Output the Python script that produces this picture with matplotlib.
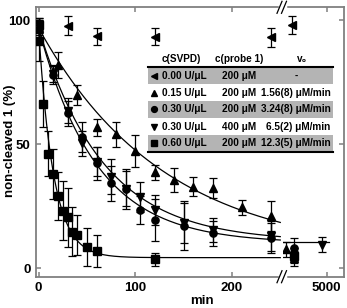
import numpy as np
import matplotlib.pyplot as plt
from matplotlib.patches import Rectangle
from matplotlib.lines import Line2D

plt.rcParams['font.family'] = ['Liberation Sans', 'DejaVu Sans']
plt.rcParams['font.weight'] = 'bold'

# ----------------------------
# Data
# ----------------------------

# 0.00 U/uL, 200 uM
t_000 = [0, 30, 60, 120, 240, 3830]
y_000 = [98.0, 97.8, 93.6, 93.5, 93.2, 98.2]
e_000 = [3.0, 3.8, 3.5, 3.5, 3.8, 3.5]

# 0.15 U/uL, 200 uM
t_015 = [0, 20, 40, 60, 80, 100, 120, 140, 160, 180, 210, 240, 3620, 3880]
y_015 = [97.0, 82.0, 70.0, 56.8, 54.0, 47.3, 38.6, 35.6, 32.9, 32.2, 24.5, 21.0, 7.6, 4.0]
e_015 = [3.0, 5.4, 4.0, 3.5, 5.0, 6.5, 3.0, 5.0, 4.0, 4.0, 3.0, 6.0, 3.0, 3.0]

# 0.30 U/uL, 200 uM
t_030 = [0, 15, 30, 45, 60, 75, 90, 105, 120, 150, 180, 240, 3880]
y_030 = [96.5, 78.0, 62.5, 53.0, 42.3, 34.2, 31.8, 23.4, 19.4, 17.1, 14.0, 12.0, 8.0]
e_030 = [3.5, 3.5, 5.0, 6.0, 6.7, 7.0, 8.0, 5.7, 8.4, 10.0, 5.0, 6.0, 4.0]

# 0.30 U/uL, 400 uM
t_030b = [0, 15, 30, 45, 60, 75, 90, 105, 120, 150, 180, 240, 4840]
y_030b = [98.0, 78.5, 63.5, 50.4, 43.0, 36.9, 32.0, 28.6, 23.4, 18.2, 15.4, 12.8, 9.5]
e_030b = [3.0, 3.5, 5.0, 5.0, 6.0, 7.0, 7.0, 6.0, 6.0, 8.0, 5.0, 6.0, 3.0]

# 0.60 U/uL, 200 uM
t_060 = [0, 5, 10, 15, 20, 25, 30, 35, 40, 50, 60, 120, 3880]
y_060 = [91.8, 66.2, 46.2, 37.9, 29.1, 23.2, 20.5, 14.7, 13.3, 8.5, 7.0, 3.5, 5.0]
e_060 = [8.0, 9.4, 9.0, 10.0, 9.8, 11.8, 12.0, 10.0, 8.0, 7.7, 6.4, 2.5, 3.0]

# single exponential fits: plateau, amplitude, rate (1/min)
fit_015 = [5.0, 92.0, 0.0077]
fit_030 = [10.0, 87.0, 0.01675]
fit_030b = [10.6, 86.4, 0.0149]
fit_060 = [4.2, 92.8, 0.065]

# legend table
col_svpd = ['0.00 U/\u03bcL', '0.15 U/\u03bcL', '0.30 U/\u03bcL', '0.30 U/\u03bcL', '0.60 U/\u03bcL']
col_probe = ['200 \u03bcM', '200 \u03bcM', '200 \u03bcM', '400 \u03bcM', '200 \u03bcM']
col_v0 = ['-', '1.56(8) \u03bcM/min', '3.24(8) \u03bcM/min', '6.5(2) \u03bcM/min', '12.3(5) \u03bcM/min']
markers = ['<', '^', 'o', 'v', 's']

series = [(t_000, y_000, e_000), (t_015, y_015, e_015), (t_030, y_030, e_030),
          (t_030b, y_030b, e_030b), (t_060, y_060, e_060)]
fits = [None, fit_015, fit_030, fit_030b, fit_060]

# ----------------------------
# Figure layout (pixels -> figure fraction)
# ----------------------------
W, H = 347, 308
def fx(px):
    return px / W
def fy(py):
    return 1 - py / H

fig = plt.figure(figsize=(W / 100, H / 100), dpi=100)
x_left, x_break, x_right = 36, 282.5, 343.5
y_top, y_bot = 7.3, 276.7

ax1 = fig.add_axes([fx(x_left), fy(y_bot), fx(x_break - x_left), (y_bot - y_top) / H])
ax2 = fig.add_axes([fx(x_break), fy(y_bot), fx(x_right - x_break), (y_bot - y_top) / H], sharey=ax1)

spine_col = '#808080'
for ax in (ax1, ax2):
    for s in ax.spines.values():
        s.set_color(spine_col)
        s.set_linewidth(1.3)
    ax.tick_params(direction='in', length=3.6, width=1.1, color=spine_col,
                   labelcolor='black', labelsize=9.5, pad=4)
ax1.spines['right'].set_visible(False)
ax2.spines['left'].set_visible(False)
ax1.tick_params(top=True, right=False)
ax2.tick_params(top=True, left=False, right=True, labelleft=False)

for ax in (ax1, ax2):
    for (t, y, e), m, fit in zip(series, markers, fits):
        ax.errorbar(t, y, yerr=e, fmt=m, color='black', ms=5.2 if m != '<' else 6,
                    elinewidth=0.9, capsize=2.8, capthick=0.9, zorder=3)

tt = np.linspace(0, 250, 300)
for fit in fits:
    if fit is None:
        continue
    c, a, k = fit
    ax1.plot(tt, c + a * np.exp(-k * tt), color='black', lw=0.9, zorder=2)
# the 400 uM fit runs on past the break
c, a, k = fit_030b
tl = np.linspace(3500, 5070, 50)
ax2.plot(tl, c + a * np.exp(-k * tl), color='black', lw=0.9, zorder=2)

ax1.set_xlim(-2.6, 252.3)
ax2.set_xlim(3500, 5570)
ax1.set_ylim(-3.5, 105.3)
ax1.set_xticks([0, 100, 200])
ax2.set_xticks([5000])
ax1.set_yticks([0, 50, 100])
for lab in ax1.get_xticklabels() + ax1.get_yticklabels() + ax2.get_xticklabels():
    lab.set_fontweight('bold')

fig.text(fx(10), fy(141), 'non-cleaved 1 (%)', rotation=90, ha='center', va='center',
         fontsize=9.5, fontweight='bold')
fig.text(fx(202), fy(301.5), 'min', ha='center', va='center', fontsize=9.5, fontweight='bold')

# axis break marks
for yb in (y_top, y_bot):
    fig.add_artist(Line2D([fx(279.5), fx(284.5)], [fy(yb), fy(yb)], color='white', lw=2.5,
                          transform=fig.transFigure))
    for dx in (0, 4.5):
        fig.add_artist(Line2D([fx(277 + dx), fx(282 + dx)], [fy(yb + 6), fy(yb - 6)],
                              color='black', lw=0.9, transform=fig.transFigure))

# ----------------------------
# Legend table
# ----------------------------
tx0, tx1 = 148, 332.7
row_y = [76, 92.7, 109.3, 126.7, 143.3]
row_h = 16.4
fs = 7.2
for i, yc in enumerate(row_y):
    if i % 2 == 0:
        fig.add_artist(Rectangle((fx(tx0), fy(yc + row_h / 2)), fx(tx1 - tx0), row_h / H,
                                 transform=fig.transFigure, facecolor='#b4b4b4',
                                 edgecolor='none', zorder=5))
    fig.add_artist(Line2D([fx(154)], [fy(yc)], marker=markers[i], color='black',
                          ms=4.2, ls='none', transform=fig.transFigure, zorder=6))
    fig.text(fx(161.5), fy(yc), col_svpd[i], ha='left', va='center', fontsize=fs,
             fontweight='bold', zorder=6)
    fig.text(fx(239), fy(yc), col_probe[i], ha='center', va='center', fontsize=fs,
             fontweight='bold', zorder=6)
    if col_v0[i] == '-':
        fig.text(fx(296), fy(yc), col_v0[i], ha='center', va='center', fontsize=fs,
                 fontweight='bold', zorder=6)
    else:
        fig.text(fx(330.5), fy(yc), col_v0[i], ha='right', va='center', fontsize=fs,
                 fontweight='bold', zorder=6)

fig.text(fx(181), fy(59), 'c(SVPD)', ha='center', va='center', fontsize=fs, fontweight='bold')
fig.text(fx(239), fy(59), 'c(probe 1)', ha='center', va='center', fontsize=fs, fontweight='bold')
fig.text(fx(302), fy(59), 'v\u2080', ha='center', va='center', fontsize=fs, fontweight='bold')
for yl in (66.7, 152.2):
    fig.add_artist(Line2D([fx(tx0), fx(tx1)], [fy(yl), fy(yl)], color='black', lw=1.5,
                          transform=fig.transFigure, zorder=6))

fig.savefig('out.png', dpi=100)
